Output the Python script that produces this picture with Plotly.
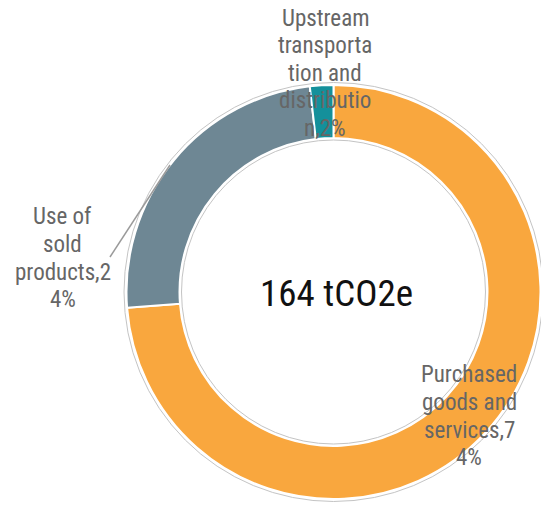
import plotly.graph_objects as go

# データ
categories = ["Purchased goods and services", "Use of sold products",
              "Upstream transportation and distribution"]
values = [121, 40, 3]
label_lines = [
    ["Purchased", "goods and", "services,7", "4%"],
    ["Use of", "sold", "products,2", "4%"],
    ["Upstream", "transporta", "tion and", "distributio", "n,2%"],
]
total_text = "164 tCO2e"

COLORS = ["#F9A73E", "#6E8794", "#14909B"]
FONT = "Liberation Sans Narrow, Roboto Condensed, Roboto, sans-serif"

W, H = 541, 506
CX, CY = 333.5, 292      # 円の中心 (px)
R_OUT, R_IN = 207, 154
LINE_PITCH = 27.6        # ラベルの行間 (px)


def px(x):
    return x / W


def py(y):
    return (H - y) / H


fig = go.Figure()

fig.add_trace(go.Pie(
    labels=categories,
    values=values,
    hole=R_IN / R_OUT,
    sort=False,
    direction="clockwise",
    rotation=0,
    marker=dict(colors=COLORS, line=dict(color="white", width=2)),
    textinfo="none",
    hoverinfo="label+percent",
    showlegend=False,
    domain=dict(x=[px(CX - R_OUT), px(CX + R_OUT)],
                y=[py(CY + R_OUT), py(CY - R_OUT)]),
))

# 外側・内側の細い縁取り
for r in (R_OUT + 2.5, R_IN - 2):
    fig.add_shape(type="circle", xref="paper", yref="paper",
                  x0=px(CX - r), x1=px(CX + r), y0=py(CY + r), y1=py(CY - r),
                  line=dict(color="#c4c4c4", width=1))

# ラベル線（Use of sold products）
fig.add_shape(type="line", xref="paper", yref="paper",
              x0=px(170), y0=py(165), x1=px(110), y1=py(257),
              line=dict(color="#9a9a9a", width=1.5))

# ラベル（1行ずつ配置して行間を合わせる）
label_pos = [(469, 375), (62.5, 217), (325, 18)]   # 中心x, 1行目の中心y
for lines, (lx, ly) in zip(label_lines, label_pos):
    for k, line in enumerate(lines):
        fig.add_annotation(
            x=px(lx), y=py(ly + k * LINE_PITCH), xref="paper", yref="paper",
            text=line, showarrow=False,
            xanchor="center", yanchor="middle", align="center",
            font=dict(family=FONT, size=23, color="#666666"),
        )

# 中央テキスト
fig.add_annotation(
    x=px(336), y=py(293), xref="paper", yref="paper",
    text=total_text, showarrow=False,
    xanchor="center", yanchor="middle",
    font=dict(family=FONT, size=37, color="#111111"),
)

fig.update_layout(
    width=W, height=H,
    margin=dict(l=0, r=0, t=0, b=0),
    paper_bgcolor="white",
    plot_bgcolor="white",
)

fig.write_html("out.html", config={"displayModeBar": False},
               post_script="document.body.style.margin='0';")
